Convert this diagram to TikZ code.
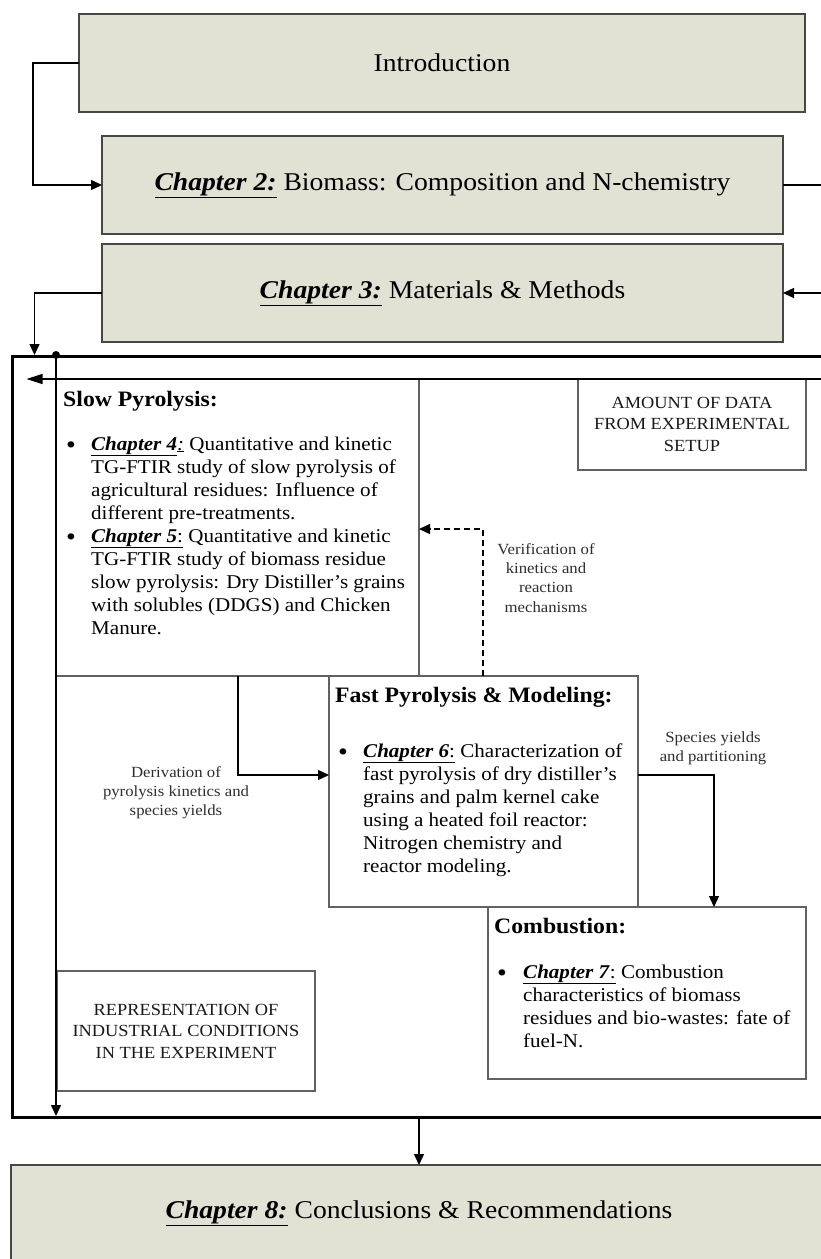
\documentclass[tikz,border=0pt]{standalone}
\usepackage{fontspec}
\setmainfont{Liberation Serif}[FakeStretch=1.08]
\usetikzlibrary{arrows.meta}

\definecolor{boxfill}{HTML}{E1E2D4}
\newcommand\chap[1]{\underline{\textbf{\textit{#1}}}}
\newcommand\bodysize{\fontsize{19.5}{23}\selectfont}
\newcommand\notesize{\fontsize{15.5}{19.4}\selectfont}
\newcommand\capsize{\fontsize{17}{21.5}\selectfont}
\newcommand\dotmark{\raisebox{-3pt}{\fontsize{26}{23}\selectfont\textbullet}}

\tikzset{
  chbox/.style={draw=black!72, line width=1.3pt, fill=boxfill, inner sep=0pt,
    outer sep=0pt, anchor=north west, font=\fontsize{25.6}{30}\selectfont},
  panel/.style={draw=black!62, line width=1.2pt, inner sep=0pt, outer sep=0pt,
    anchor=north west},
  frame/.style={draw=black, line width=3pt, inner sep=0pt, anchor=north west},
  wire/.style={line width=1.4pt},
  link/.style={line width=1.4pt, -{Triangle[length=11pt,width=10pt]}},
  longlink/.style={line width=1.4pt, -{Triangle[length=16pt,width=10pt]}},
  head/.style={anchor=base west, inner sep=0pt, font=\fontsize{22}{25}\selectfont\bfseries},
  body/.style={anchor=base west, inner sep=0pt, font=\bodysize},
  note/.style={anchor=base, inner sep=0pt, text=black!82, font=\notesize},
  caps/.style={anchor=base, inner sep=0pt, text=black!90, font=\capsize},
}

\begin{document}
\begin{tikzpicture}[x=1pt, y=-1pt]
\useasboundingbox (0,0) rectangle (821,1259);
\fill[white] (0,0) rectangle (821,1259);
\clip (0,0) rectangle (821,1259);

% chapter boxes
\node[chbox, minimum width=726pt, minimum height=98pt] (intro) at (79,14) {Introduction};
\node[chbox, minimum width=681pt, minimum height=98pt] (ch2) at (102,136)
  {\chap{Chapter 2:} Biomass: Composition and N-chemistry};
\node[chbox, minimum width=681pt, minimum height=98pt] (ch3) at (102,244)
  {\chap{Chapter 3:} Materials \& Methods};
\node[chbox, minimum width=816pt, minimum height=96pt] (ch8) at (11,1165)
  {\chap{Chapter 8:} Conclusions \& Recommendations};

% experimental frame and its panels
\node[frame, minimum width=830pt, minimum height=761pt] (frame) at (10.5,355) {};
\node[panel, minimum width=363pt, minimum height=297pt] (slow) at (56,379) {};
\node[panel, minimum width=309pt, minimum height=231pt] (fast) at (329,676) {};
\node[panel, minimum width=318pt, minimum height=172pt] (comb) at (488,907) {};
\node[panel, minimum width=228pt, minimum height=91pt] (data) at (578,379) {};
\node[panel, minimum width=258pt, minimum height=120pt] (repr) at (57,971) {};

% panel contents
\node[head] (slowhead) at (63,406) {Slow Pyrolysis:};
\node[body] (slowtext) at (66,450) {\bodysize\begin{tabular}[t]{@{}p{25pt}@{}l@{}}
  \dotmark & \chap{Chapter 4}\underline{\textit{:}} Quantitative and kinetic\\
  & TG-FTIR study of slow pyrolysis of\\
  & agricultural residues: Influence of\\
  & different pre-treatments.\\
  \dotmark & \underline{\textbf{\textit{Chapter 5}}:} Quantitative and kinetic\\
  & TG-FTIR study of biomass residue\\
  & slow pyrolysis: Dry Distiller’s grains\\
  & with solubles (DDGS) and Chicken\\
  & Manure.
\end{tabular}};

\node[head] (fasthead) at (335,702) {Fast Pyrolysis \& Modeling:};
\node[body] (fasttext) at (338,757) {\bodysize\begin{tabular}[t]{@{}p{25pt}@{}l@{}}
  \dotmark & \underline{\textbf{\textit{Chapter 6}}:} Characterization of\\
  & fast pyrolysis of dry distiller’s\\
  & grains and palm kernel cake\\
  & using a heated foil reactor:\\
  & Nitrogen chemistry and\\
  & reactor modeling.
\end{tabular}};

\node[head] (combhead) at (494,933) {Combustion:};
\node[body] (combtext) at (497,978) {\bodysize\begin{tabular}[t]{@{}p{26pt}@{}l@{}}
  \dotmark & \underline{\textbf{\textit{Chapter 7}}:} Combustion\\
  & characteristics of biomass\\
  & residues and bio-wastes: fate of\\
  & fuel-N.
\end{tabular}};

\node[caps] (datatext) at (692,408) {\capsize\begin{tabular}[t]{@{}c@{}}
  AMOUNT OF DATA\\ FROM EXPERIMENTAL\\ SETUP\end{tabular}};
\node[caps] (reprtext) at (186,1015) {\capsize\begin{tabular}[t]{@{}c@{}}
  REPRESENTATION OF\\ INDUSTRIAL CONDITIONS\\ IN THE EXPERIMENT\end{tabular}};

% connector labels
\node[note] (verif) at (546,554) {\notesize\begin{tabular}[t]{@{}c@{}}
  Verification of\\ kinetics and\\ reaction\\ mechanisms\end{tabular}};
\node[note] (deriv) at (176,777) {\notesize\begin{tabular}[t]{@{}c@{}}
  Derivation of\\ pyrolysis kinetics and\\ species yields\end{tabular}};
\node[note] (yields) at (713,742) {\notesize\begin{tabular}[t]{@{}c@{}}
  Species yields\\ and partitioning\end{tabular}};

% connectors between chapters
\draw[link] (intro.west) -- ++(-46,0) |- (ch2.west);
\draw[wire] (ch2.east) -- ++(60,0);
\draw[link] ([xshift=60pt]ch3.east) -- (ch3.east);
\draw[link] (ch3.west) -| ([xshift=24pt]frame.north west);

% flows inside the frame
\coordinate (hub) at (56,355);
\fill (hub) circle (4pt);
\draw[link] (hub) -- ([yshift=3pt]hub |- frame.south);
\coordinate (feedback) at (840,379);
\draw[longlink] (feedback) -- ([xshift=16pt]feedback -| frame.west);
\draw[link] ([xshift=182pt]slow.south west) |- ([yshift=-99pt]fast.north west);
\draw[link, dash pattern=on 6pt off 4pt] ([xshift=154pt]fast.north west) |- ([yshift=-150pt]slow.north east);
\draw[link] ([yshift=-99pt]fast.north east) -| ([xshift=226pt]comb.north west);
\draw[link] (ch8.north |- frame.south) -- (ch8.north);
\end{tikzpicture}
\end{document}
